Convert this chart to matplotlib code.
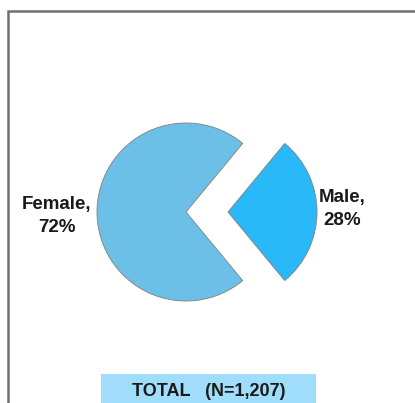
import matplotlib
matplotlib.use("Agg")
import matplotlib.pyplot as plt
from matplotlib.patches import Rectangle

categories = ["Male", "Female"]
shares = [28, 72]
colors = ["#29B8F8", "#6CBFE6"]
total_label = "TOTAL   (N=1,207)"

W, H = 415, 403
fig = plt.figure(figsize=(W / 100, H / 100), dpi=100)
ax = fig.add_axes([0, 0, 1, 1])

start = -shares[0] * 3.6 / 2
ax.pie(shares, explode=[42, 0], colors=colors, startangle=start,
       center=(186, 191), radius=89, frame=True,
       wedgeprops=dict(edgecolor="#808080", linewidth=0.6))
ax.set_xlim(0, W)
ax.set_ylim(0, H)
ax.set_aspect("equal")
ax.axis("off")

# outer frame (left and top visible)
ax.add_patch(Rectangle((8, -20), 430, 412, fill=False, edgecolor="#707070", linewidth=1.8))

font = dict(family=["Liberation Sans", "DejaVu Sans"], fontweight="bold", fontsize=13.5, color="#1a1a1a")
ax.text(57, 187, f"{categories[1]},\n{shares[1]}%", ha="center", va="center", linespacing=1.4, **font)
ax.text(342, 194, f"{categories[0]},\n{shares[0]}%", ha="center", va="center", linespacing=1.4, **font)

ax.add_patch(Rectangle((101, -5), 215, 34, facecolor="#A0DDFA", edgecolor="none"))
ax.text(209, 11, total_label, ha="center", va="center", **dict(font, fontsize=13))

fig.savefig("out.png", dpi=100)
